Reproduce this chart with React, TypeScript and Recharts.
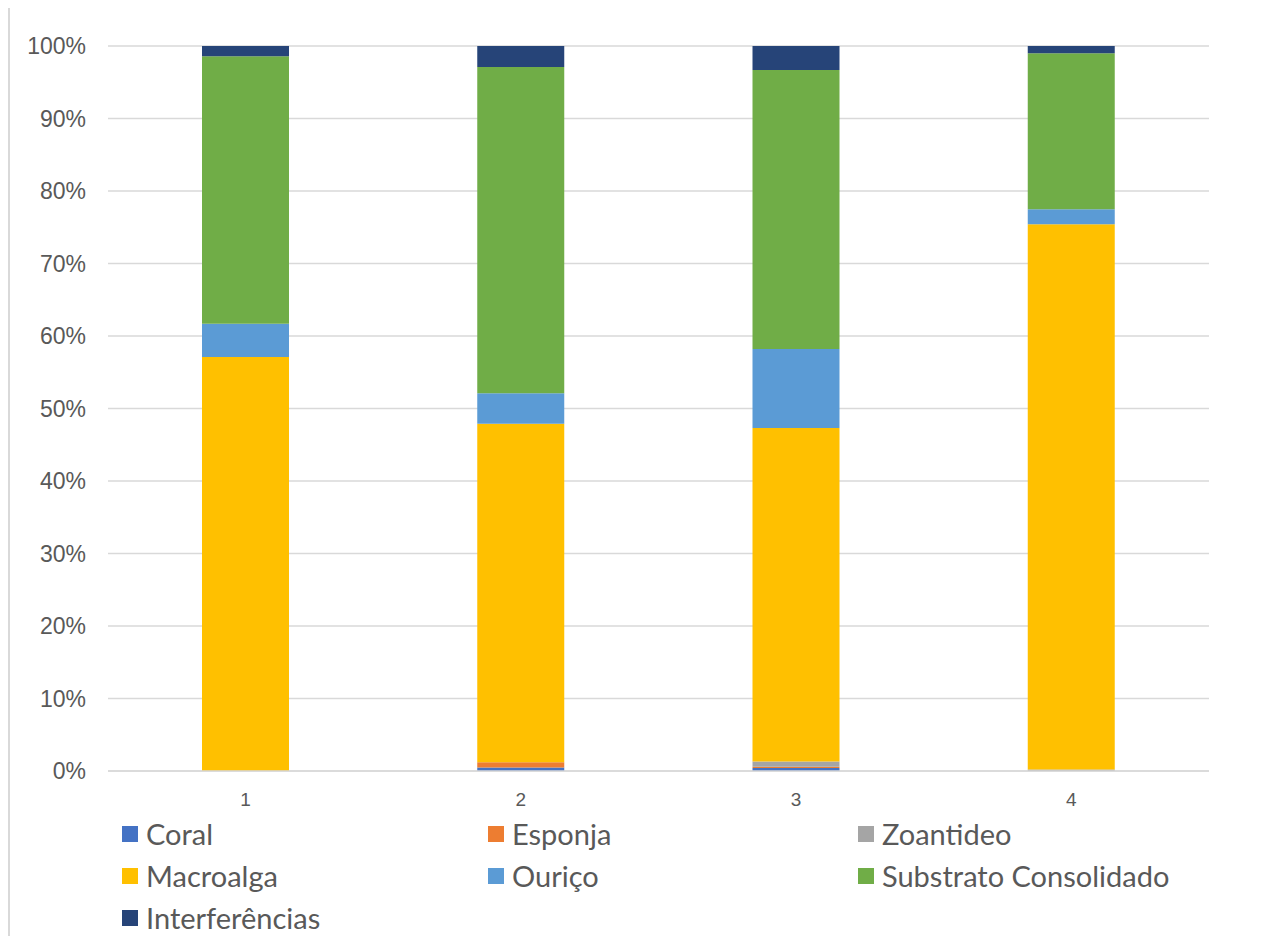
import { Bar, BarChart, CartesianGrid, Legend, XAxis, YAxis } from 'recharts';

// transect / sample points
const pontos = ['1', '2', '3', '4'];

// % cover per category (each column sums to 100)
const coral = [0, 0.5, 0.4, 0];
const esponja = [0, 0.7, 0.2, 0];
const zoantideo = [0, 0, 0.7, 0.2];
const macroalga = [57.1, 46.7, 46.0, 75.2];
const ourico = [4.6, 4.2, 10.9, 2.1];
const substrato = [36.9, 45.0, 38.5, 21.5];
const interferencias = [1.4, 2.9, 3.3, 1.0];

const yTicks = [0, 0.1, 0.2, 0.3, 0.4, 0.5, 0.6, 0.7, 0.8, 0.9, 1];

const series = [
  { key: 'coral', label: 'Coral', color: '#4472C4', values: coral },
  { key: 'esponja', label: 'Esponja', color: '#ED7D31', values: esponja },
  { key: 'zoantideo', label: 'Zoantideo', color: '#A5A5A5', values: zoantideo },
  { key: 'macroalga', label: 'Macroalga', color: '#FFC000', values: macroalga },
  { key: 'ourico', label: 'Ouriço', color: '#5B9BD5', values: ourico },
  { key: 'substrato', label: 'Substrato Consolidado', color: '#70AD47', values: substrato },
  { key: 'interferencias', label: 'Interferências', color: '#264478', values: interferencias },
];

const data = pontos.map((p, i) => {
  const row: { [k: string]: string | number } = { ponto: p };
  series.forEach((s) => {
    row[s.key] = s.values[i];
  });
  return row;
});

const gray = '#595959';
const gridColor = '#d9d9d9';

function LegendBox() {
  return (
    <div
      style={{
        display: 'grid',
        gridTemplateColumns: '366px 370px auto',
        gridAutoRows: '42px',
        paddingLeft: 112,
        paddingTop: 6,
        fontFamily: 'Lato, "Open Sans", sans-serif',
        fontSize: 29,
        lineHeight: '34px',
        color: gray,
      }}
    >
      {series.map((s) => (
        <div key={s.key} style={{ display: 'flex', alignItems: 'center' }}>
          <span
            style={{
              display: 'inline-block',
              width: 16,
              height: 16,
              background: s.color,
              marginRight: 8,
            }}
          />
          <span>{s.label}</span>
        </div>
      ))}
    </div>
  );
}

export default function App() {
  return (
    <div
      style={{
        width: 1250,
        height: 928,
        border: `2px solid ${gridColor}`,
        marginTop: -2,
        background: '#fff',
      }}
    >
      <BarChart
        width={1250}
        height={928}
        data={data}
        stackOffset="expand"
        barSize={87}
        margin={{ top: 38, right: 51, bottom: 0, left: 0 }}
      >
        <CartesianGrid vertical={false} stroke={gridColor} strokeWidth={1.5} />
        <XAxis
          dataKey="ponto"
          height={36}
          axisLine={{ stroke: gridColor, strokeWidth: 1.5 }}
          tickLine={false}
          tickSize={0}
          tickMargin={22}
          tick={{ fill: gray, fontSize: 19, fontFamily: '"Liberation Sans", Arial, sans-serif' }}
        />
        <YAxis
          width={98}
          domain={[0, 1]}
          ticks={yTicks}
          interval={0}
          axisLine={false}
          tickLine={false}
          tickSize={0}
          tickMargin={22}
          tickFormatter={(v: number) => `${Math.round(v * 100)}%`}
          tick={{ fill: gray, fontSize: 23, fontFamily: '"Liberation Sans", Arial, sans-serif' }}
        />
        <Legend
          verticalAlign="bottom"
          height={129}
          content={() => <LegendBox />}
          wrapperStyle={{ left: 0, width: 1250 }}
        />
        {series.map((s) => (
          <Bar
            key={s.key}
            dataKey={s.key}
            name={s.label}
            stackId="cobertura"
            fill={s.color}
            isAnimationActive={false}
          />
        ))}
      </BarChart>
    </div>
  );
}
